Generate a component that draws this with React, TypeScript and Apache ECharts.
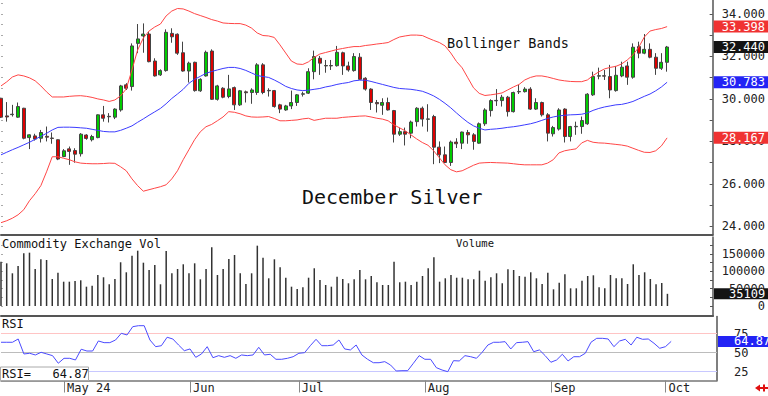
import React, { useEffect, useRef } from "react";
import * as echarts from "echarts";

const FONT = '"DejaVu Sans Mono", "Liberation Mono", monospace';

// Trading days (2024), by month; the label marks the month start on the axis
const tradingMonths = [
  { ym: "2024-04", label: "", days: [16, 17, 18, 19, 22, 23, 24, 25, 26, 29, 30] },
  { ym: "2024-05", label: "May 24", days: [1, 2, 3, 6, 7, 8, 9, 10, 13, 14, 15, 16, 17, 20, 21, 22, 23, 24, 28, 29, 30, 31] },
  { ym: "2024-06", label: "Jun", days: [3, 4, 5, 6, 7, 10, 11, 12, 13, 14, 17, 18, 20, 21, 24, 25, 26, 27, 28] },
  { ym: "2024-07", label: "Jul", days: [1, 2, 3, 5, 8, 9, 10, 11, 12, 15, 16, 17, 18, 19, 22, 23, 24, 25, 26, 29, 30, 31] },
  { ym: "2024-08", label: "Aug", days: [1, 2, 5, 6, 7, 8, 9, 12, 13, 14, 15, 16, 19, 20, 21, 22, 23, 26, 27, 28, 29, 30] },
  { ym: "2024-09", label: "Sep", days: [3, 4, 5, 6, 9, 10, 11, 12, 13, 16, 17, 18, 19, 20, 23, 24, 25, 26, 27, 30] },
  { ym: "2024-10", label: "Oct", days: [1, 2, 3, 4, 7, 8, 9, 10, 11, 14] },
];

// [open, high, low, close]
const ohlc: number[][] = [
  [30.03, 30.05, 29.10, 29.14], [29.20, 29.85, 28.93, 29.15], [29.26, 29.72, 29.17, 29.28], [29.14, 29.83, 29.11, 29.64], [29.56, 29.58, 28.10, 28.15],
  [28.18, 28.33, 27.64, 28.31], [28.26, 28.36, 28.04, 28.11], [28.15, 28.54, 27.95, 28.42], [28.24, 28.70, 28.00, 28.20], [28.16, 28.42, 27.89, 28.14],
  [28.08, 28.10, 27.12, 27.17], [27.29, 27.64, 27.26, 27.56], [27.65, 27.76, 26.90, 27.53], [27.57, 27.68, 27.00, 27.40], [27.42, 28.39, 27.29, 28.34],
  [28.30, 28.34, 28.08, 28.14], [28.08, 28.31, 28.00, 28.23], [28.18, 29.27, 28.15, 29.25], [29.25, 29.67, 28.93, 29.09], [29.18, 29.33, 28.89, 29.16],
  [29.14, 29.56, 29.05, 29.52], [29.48, 30.66, 29.40, 30.61], [30.66, 30.74, 30.42, 30.50], [30.58, 32.61, 30.39, 32.49], [32.61, 33.52, 32.15, 32.82],
  [32.96, 33.55, 32.17, 33.05], [33.05, 33.16, 31.72, 31.75], [31.78, 31.91, 31.05, 31.08], [31.13, 31.39, 31.08, 31.33], [31.33, 33.27, 31.28, 33.13],
  [33.08, 33.32, 32.64, 32.92], [33.04, 33.08, 32.07, 32.15], [32.17, 32.69, 31.28, 31.31], [31.31, 31.75, 30.77, 31.68], [31.72, 31.75, 30.34, 30.39],
  [30.38, 30.97, 30.33, 30.92], [31.08, 32.27, 31.05, 32.19], [32.25, 32.33, 29.95, 29.98], [29.98, 30.66, 29.92, 30.61], [30.50, 30.55, 30.03, 30.08],
  [30.11, 31.13, 30.03, 30.47], [30.53, 30.58, 29.48, 29.72], [29.72, 30.42, 29.67, 30.38], [30.33, 30.39, 29.83, 30.29], [30.30, 30.50, 29.77, 30.42],
  [30.30, 31.68, 30.19, 31.60], [31.60, 31.68, 30.22, 30.30], [30.40, 30.50, 30.11, 30.38], [30.39, 30.42, 29.59, 29.64], [29.72, 29.77, 29.33, 29.52],
  [29.48, 29.72, 29.44, 29.67], [29.67, 30.39, 29.52, 29.83], [29.83, 30.23, 29.67, 30.19], [30.22, 30.34, 30.11, 30.24], [30.27, 31.44, 30.23, 31.28],
  [31.28, 32.27, 30.92, 31.99], [31.91, 32.02, 31.13, 31.68], [31.55, 31.83, 31.23, 31.57], [31.57, 31.83, 31.36, 31.55], [31.56, 32.49, 31.52, 32.19],
  [32.17, 32.22, 31.13, 31.55], [31.55, 31.75, 31.28, 31.36], [31.33, 32.15, 31.28, 31.99], [31.96, 32.15, 30.89, 30.92], [30.97, 31.02, 30.39, 30.46],
  [30.46, 30.50, 29.48, 29.83], [29.83, 29.95, 29.36, 29.77], [29.70, 30.03, 29.25, 29.83], [29.83, 30.06, 29.45, 29.48], [29.45, 29.48, 27.95, 28.34],
  [28.34, 28.65, 28.26, 28.46], [28.46, 28.65, 27.81, 28.34], [28.39, 28.98, 28.15, 28.91], [28.93, 29.61, 28.70, 29.56], [29.56, 29.64, 28.70, 29.05],
  [29.04, 29.75, 28.46, 29.06], [29.17, 29.25, 26.93, 27.73], [27.73, 28.00, 26.98, 27.37], [27.37, 27.76, 26.98, 27.01], [27.01, 28.04, 26.85, 27.97],
  [27.97, 28.15, 27.69, 27.89], [27.92, 28.46, 27.64, 28.44], [28.42, 28.54, 27.89, 28.31], [28.31, 28.39, 27.61, 28.00], [27.92, 28.89, 27.89, 28.83],
  [28.83, 29.56, 28.73, 29.48], [29.45, 29.98, 29.17, 29.92], [29.93, 30.46, 29.67, 29.91], [29.92, 30.19, 29.64, 30.08], [30.08, 30.14, 29.17, 29.40],
  [29.40, 30.34, 29.36, 30.30], [30.33, 30.66, 30.23, 30.35], [30.34, 30.55, 30.30, 30.46], [30.46, 30.55, 29.48, 29.52], [29.52, 30.03, 29.48, 29.83],
  [29.83, 29.87, 29.17, 29.25], [29.25, 29.33, 28.00, 28.39], [28.36, 28.73, 28.23, 28.65], [28.58, 29.56, 28.51, 29.48], [29.52, 29.56, 27.95, 28.23],
  [28.23, 28.73, 28.00, 28.70], [28.69, 28.93, 28.31, 28.71], [28.70, 29.17, 28.36, 28.98], [28.83, 30.27, 28.78, 30.22], [30.19, 31.28, 30.14, 31.05],
  [31.07, 31.47, 30.92, 31.09], [31.09, 31.36, 30.89, 31.07], [31.05, 31.60, 30.03, 30.42], [30.39, 31.55, 30.34, 31.11], [31.08, 31.75, 31.02, 31.49],
  [31.55, 31.75, 30.66, 31.02], [31.02, 32.61, 30.95, 32.43], [32.46, 32.69, 31.91, 32.15], [32.15, 33.05, 32.10, 32.33], [32.33, 32.61, 31.91, 31.96],
  [31.96, 32.15, 31.13, 31.44], [31.44, 32.15, 31.36, 31.72], [31.72, 32.49, 31.28, 32.44],
];

const upperBand = [
  30.61, 30.80, 31.03, 31.13, 31.08, 30.99, 30.85, 30.61, 30.33, 30.09,
  30.09, 30.09, 30.12, 30.14, 30.15, 30.12, 30.07, 30.00, 29.95, 29.88,
  29.95, 30.14, 30.47, 31.36, 32.30, 32.86, 33.19, 33.38, 33.52, 33.90,
  34.13, 34.25, 34.23, 34.13, 34.01, 33.92, 33.83, 33.73, 33.66, 33.57,
  33.55, 33.54, 33.54, 33.47, 33.33, 33.10, 32.98, 32.96, 32.89, 32.54,
  32.16, 31.78, 31.64, 31.62, 31.74, 31.95, 32.11, 32.18, 32.25, 32.32,
  32.37, 32.42, 32.46, 32.46, 32.51, 32.54, 32.58, 32.61, 32.65, 32.79,
  32.91, 32.96, 33.00, 33.00, 32.98, 32.86, 32.75, 32.65, 32.49, 32.16,
  31.76, 31.46, 30.99, 30.52, 30.26, 30.16, 30.19, 30.23, 30.28, 30.42,
  30.56, 30.68, 30.89, 31.01, 31.08, 31.08, 31.03, 30.96, 30.89, 30.85,
  30.82, 30.81, 30.81, 30.89, 31.10, 31.27, 31.41, 31.48, 31.53, 31.64,
  31.83, 32.07, 32.42, 32.91, 33.19, 33.26, 33.31, 33.398,
];

const middleBand = [
  27.37, 27.49, 27.61, 27.72, 27.84, 27.96, 28.10, 28.24, 28.38, 28.54,
  28.66, 28.67, 28.67, 28.66, 28.64, 28.62, 28.57, 28.52, 28.47, 28.45,
  28.45, 28.52, 28.62, 28.73, 28.90, 29.06, 29.23, 29.39, 29.55, 29.77,
  30.02, 30.23, 30.45, 30.73, 30.92, 31.06, 31.20, 31.29, 31.36, 31.43,
  31.48, 31.48, 31.43, 31.34, 31.22, 31.10, 31.05, 31.01, 30.89, 30.75,
  30.59, 30.49, 30.42, 30.39, 30.41, 30.45, 30.49, 30.56, 30.61, 30.68,
  30.73, 30.77, 30.85, 30.88, 30.88, 30.82, 30.75, 30.68, 30.61, 30.54,
  30.49, 30.47, 30.45, 30.41, 30.36, 30.26, 30.14, 29.98, 29.79, 29.58,
  29.34, 29.11, 28.90, 28.73, 28.62, 28.54, 28.57, 28.59, 28.62, 28.66,
  28.69, 28.73, 28.78, 28.83, 28.90, 28.99, 29.08, 29.15, 29.20, 29.23,
  29.25, 29.26, 29.28, 29.34, 29.46, 29.55, 29.62, 29.67, 29.72, 29.74,
  29.80, 29.88, 30.00, 30.12, 30.23, 30.38, 30.56, 30.783,
];

const lowerBand = [
  24.18, 24.27, 24.39, 24.55, 24.79, 25.21, 25.54, 25.92, 26.57, 27.28,
  27.28, 27.21, 27.14, 27.04, 26.98, 26.96, 26.95, 26.95, 26.96, 26.98,
  26.97, 26.81, 26.62, 26.24, 25.92, 25.66, 25.73, 25.80, 25.87, 25.96,
  26.24, 26.62, 27.14, 27.61, 28.08, 28.45, 28.69, 28.80, 28.97, 29.15,
  29.40, 29.37, 29.30, 29.20, 29.15, 29.14, 29.15, 29.17, 29.08, 28.97,
  28.97, 28.99, 29.01, 29.06, 29.09, 28.99, 29.04, 29.09, 29.09, 29.09,
  29.13, 29.15, 29.17, 29.19, 29.20, 29.15, 29.09, 29.05, 28.97, 28.78,
  28.64, 28.50, 28.31, 28.12, 27.95, 27.82, 27.56, 27.23, 26.90, 26.67,
  26.57, 26.62, 26.75, 26.88, 26.98, 27.00, 27.01, 27.00, 26.99, 26.98,
  26.95, 26.92, 26.90, 26.90, 26.90, 26.90, 26.98, 27.14, 27.46, 27.56,
  27.61, 27.65, 27.93, 28.05, 27.96, 27.93, 27.92, 27.89, 27.86, 27.83,
  27.78, 27.68, 27.58, 27.49, 27.48, 27.56, 27.79, 28.167,
];

const volume = [
  127800, 123100, 94300, 115400, 152000, 153800, 106700, 134700, 132700, 77900,
  96100, 70100, 70100, 72100, 74100, 55700, 58600, 89400, 82800, 62600,
  77900, 126100, 97200, 145100, 159500, 124900, 103900, 118300, 62600, 158700,
  94300, 106700, 120300, 94300, 123100, 77000, 106700, 169300, 89400, 106700,
  135600, 147100, 94300, 63500, 94300, 174000, 139400, 79900, 134700, 111600,
  81600, 55700, 49000, 53900, 81600, 108800, 75000, 60600, 55700, 84500,
  77900, 65500, 77000, 103900, 77000, 86600, 68400, 60600, 60600, 127800,
  68400, 70100, 60600, 70100, 86600, 108800, 140500, 70100, 79900, 89400,
  81600, 81600, 77000, 77000, 101800, 73000, 82800, 94300, 65500, 105900,
  103900, 86600, 84500, 97200, 79900, 63500, 96100, 48100, 67300, 91500,
  51000, 51000, 73000, 86600, 88500, 53900, 51000, 89400, 79900, 79900,
  63500, 120300, 89400, 97200, 77900, 62600, 66400, 35109,
];

const rsi = [
  63.7, 63.7, 63.7, 68.0, 48.3, 49.2, 47.0, 50.5, 48.3, 46.1,
  36.1, 42.6, 42.6, 40.4, 54.5, 52.2, 52.2, 65.4, 63.2, 63.2,
  66.7, 75.5, 73.3, 84.2, 85.5, 85.5, 66.7, 57.9, 59.2, 70.3,
  68.0, 60.1, 52.6, 54.9, 43.9, 48.3, 57.9, 43.4, 46.1, 43.9,
  46.1, 42.6, 47.0, 46.1, 47.0, 57.1, 47.0, 47.9, 41.3, 41.3,
  42.6, 44.7, 49.2, 50.0, 59.2, 67.6, 59.2, 59.2, 60.1, 66.7,
  54.9, 53.6, 60.1, 47.0, 41.3, 36.8, 36.8, 38.2, 33.8, 25.9,
  26.3, 26.3, 36.1, 46.1, 41.3, 41.3, 30.3, 27.2, 25.0, 39.5,
  39.1, 46.1, 44.7, 42.6, 50.5, 60.1, 63.7, 63.7, 64.5, 54.9,
  63.2, 63.7, 64.5, 51.3, 53.6, 46.1, 37.4, 40.4, 47.9, 39.1,
  44.7, 44.7, 49.2, 63.7, 68.9, 68.9, 68.0, 57.9, 65.4, 67.6,
  60.1, 70.3, 67.6, 68.0, 62.4, 55.8, 57.9, 64.87,
];

const priceLabels = [24, 26, 28, 30, 32, 34];
const priceTicks = [24, 25, 26, 27, 28, 29, 30, 31, 32, 33, 34];
const priceMinorTicks = [24, 24.5, 25, 25.5, 26, 26.5, 27, 27.5, 28, 28.5, 29, 29.5, 30, 30.5, 31, 31.5, 32, 32.5, 33, 33.5, 34, 34.5];
const volumeLabels = [0, 50000, 100000, 150000];
const volumeTicks = [0, 25000, 50000, 75000, 100000, 125000, 150000, 175000];
const rsiLabels = [25, 50, 75];

const categories: string[] = [];
const monthStartLabel: Record<number, string> = {};
tradingMonths.forEach((m) => {
  m.days.forEach((d, k) => {
    if (k === 0 && m.label) monthStartLabel[categories.length] = m.label;
    categories.push(`${m.ym}-${String(d).padStart(2, "0")}`);
  });
});

export default function App() {
  const ref = useRef<HTMLDivElement>(null);
  useEffect(() => {
    const chart = echarts.init(ref.current!, null, { renderer: "svg" });
    const last = ohlc.length - 1;
    const lbl = { fontFamily: FONT, fontSize: 12, color: "#222" };
    const isMonthStart = (i: number) => monthStartLabel[i] !== undefined;
    const grids = [
      { left: 1, right: 51, top: 0, height: 235 },
      { left: 1, right: 51, top: 237, height: 79 },
      { left: 1, right: 51, top: 316.5, height: 64 },
    ];
    const xAxes = grids.map((_, g) => ({
      type: "category",
      gridIndex: g,
      data: categories,
      boundaryGap: false,
      axisLine: { show: true, onZero: false, lineStyle: { color: g === 2 ? "#777" : "#555", width: g === 2 ? 1.5 : 2 } },
      axisTick: { show: g === 2, interval: (i: number) => isMonthStart(i), length: 12, lineStyle: { color: "#888" } },
      axisLabel: {
        show: g === 2,
        interval: (i: number) => isMonthStart(i),
        formatter: (_v: string, i: number) => monthStartLabel[i] ?? "",
        align: "left",
        margin: 1,
        padding: [0, 0, 0, 3],
        ...lbl,
      },
      splitLine: { show: false },
    }));
    const priceRange = { min: 23.6, max: 34.65 };
    const volRange = { min: -28850, max: 199000 };
    const rsiRange = { min: 13.4, max: 97.6 };
    const yAxes = [
      {
        type: "value", gridIndex: 0, position: "right", ...priceRange,
        axisLine: { show: true, lineStyle: { color: "#555", width: 1.5 } },
        axisTick: { show: true, inside: true, length: 3, lineStyle: { color: "#555" }, customValues: priceTicks },
        axisLabel: { ...lbl, customValues: priceLabels, formatter: (v: number) => v.toFixed(3), margin: 9, align: "left" },
        splitLine: { show: false },
      },
      {
        type: "value", gridIndex: 0, position: "left", ...priceRange,
        axisLine: { show: false },
        axisTick: { show: true, inside: true, length: 2, lineStyle: { color: "#aaa" }, customValues: priceMinorTicks },
        axisLabel: { show: false },
        splitLine: { show: false },
      },
      {
        type: "value", gridIndex: 1, position: "right", ...volRange,
        axisLine: { show: true, lineStyle: { color: "#555", width: 1.5 } },
        axisTick: { show: true, inside: true, length: 3, lineStyle: { color: "#555" }, customValues: volumeTicks },
        axisLabel: { ...lbl, customValues: volumeLabels, formatter: (v: number) => String(v), margin: 52, align: "right" },
        splitLine: { show: false },
      },
      {
        type: "value", gridIndex: 1, position: "left", ...volRange,
        axisLine: { show: false },
        axisTick: { show: true, inside: true, length: 2, lineStyle: { color: "#aaa" }, customValues: volumeTicks },
        axisLabel: { show: false },
        splitLine: { show: false },
      },
      {
        type: "value", gridIndex: 2, position: "right", ...rsiRange,
        axisLine: { show: true, lineStyle: { color: "#555", width: 1.5 } },
        axisTick: { show: true, inside: true, length: 3, lineStyle: { color: "#555" }, customValues: rsiLabels },
        axisLabel: { ...lbl, customValues: rsiLabels, formatter: (v: number) => String(v), margin: 17, align: "left" },
        splitLine: { show: false },
      },
    ];
    const hiddenLine = { type: "solid", width: 1, color: "rgba(255,255,255,0)", opacity: 1 };
    const boxLabel = {
      show: true, position: "end", distance: 1, formatter: "{b}", color: "#fff", opacity: 1,
      fontFamily: FONT, fontSize: 12, lineHeight: 12, padding: [0, 14, 0, 8],
    };
    const option = {
      animation: false,
      backgroundColor: "#ffffff",
      textStyle: { fontFamily: FONT },
      grid: grids,
      xAxis: xAxes,
      yAxis: yAxes,
      series: [
        {
          type: "candlestick", name: "December Silver", xAxisIndex: 0, yAxisIndex: 0,
          data: ohlc.map(([o, h, l, c]) => [o, c, l, h]),
          barWidth: 3.5,
          itemStyle: { color: "#00cc00", color0: "#dd0000", borderColor: "#444", borderColor0: "#444", borderWidth: 1 },
        },
        {
          type: "line", name: "Upper", xAxisIndex: 0, yAxisIndex: 0, data: upperBand,
          symbol: "none", clip: false, lineStyle: { color: "#ff4646", width: 1 },
        },
        {
          type: "line", name: "Lower", xAxisIndex: 0, yAxisIndex: 0, data: lowerBand,
          symbol: "none", clip: false, lineStyle: { color: "#ff4646", width: 1 },
        },
        {
          type: "line", name: "Middle", xAxisIndex: 0, yAxisIndex: 0, data: middleBand,
          symbol: "none", clip: false, lineStyle: { color: "#3c3cff", width: 1 }, z: 3,
          markLine: {
            silent: true, symbol: "none", animation: false, z: 20,
            lineStyle: hiddenLine,
            label: boxLabel,
            data: [
              { name: upperBand[last].toFixed(3), yAxis: upperBand[last], label: { backgroundColor: "#f03232" } },
              { name: ohlc[last][3].toFixed(3), yAxis: ohlc[last][3], label: { backgroundColor: "#141414" } },
              { name: middleBand[last].toFixed(3), yAxis: middleBand[last], label: { backgroundColor: "#2323f5" } },
              { name: lowerBand[last].toFixed(3), yAxis: lowerBand[last], label: { backgroundColor: "#f03232" } },
            ],
          },
        },
        {
          type: "bar", name: "Volume", xAxisIndex: 1, yAxisIndex: 2, data: volume,
          barWidth: 1.5, clip: false, itemStyle: { color: "#333" },
          markLine: {
            silent: true, symbol: "none", animation: false, z: 20,
            lineStyle: hiddenLine,
            label: { ...boxLabel, lineHeight: 11, padding: [0, 4, 0, 15], backgroundColor: "#141414" },
            data: [{ name: String(volume[last]), yAxis: volume[last] }],
          },
        },
        {
          type: "line", name: "RSI", xAxisIndex: 2, yAxisIndex: 4, data: rsi,
          symbol: "none", clip: false, lineStyle: { color: "#4b4bff", width: 1 }, z: 3,
          markLine: {
            silent: true, symbol: "none", animation: false, z: 2,
            lineStyle: { type: "solid", width: 1, opacity: 1 },
            label: { ...boxLabel, lineHeight: 11, padding: [0, 4, 0, 16], backgroundColor: "#2323f5" },
            data: [
              { name: "75", yAxis: 75, lineStyle: { color: "#ffc4c4" }, label: { show: false } },
              { name: "50", yAxis: 50, lineStyle: { color: "#bcbcbc" }, label: { show: false } },
              { name: "25", yAxis: 25, lineStyle: { color: "#c8c8ff" }, label: { show: false } },
              { name: rsi[last].toFixed(2), yAxis: rsi[last], lineStyle: { color: "rgba(255,255,255,0)" } },
            ],
          },
        },
      ],
      graphic: [
        { type: "text", x: 447, y: 43, style: { text: "Bollinger Bands", fontFamily: FONT, fontSize: 13.5, fill: "#111", verticalAlign: "middle" } },
        { type: "text", x: 302, y: 197, style: { text: "December Silver", fontFamily: FONT, fontSize: 20, fill: "#111", verticalAlign: "middle" } },
        { type: "text", x: 2, y: 244, style: { text: "Commodity Exchange Vol", fontFamily: FONT, fontSize: 12, fill: "#111", verticalAlign: "middle" } },
        { type: "text", x: 475, y: 243, style: { text: "Volume", fontFamily: FONT, fontSize: 10.5, fill: "#111", align: "center", verticalAlign: "middle" } },
        { type: "text", x: 2, y: 324, style: { text: "RSI", fontFamily: FONT, fontSize: 12, fill: "#111", verticalAlign: "middle" } },
        { type: "rect", shape: { x: 0.5, y: 367, width: 88, height: 13.5 }, style: { fill: "#fff", stroke: "#aaa", lineWidth: 1 }, z: 10 },
        { type: "text", x: 2, y: 374, z: 11, style: { text: `RSI=   ${rsi[last].toFixed(2)}`, fontFamily: FONT, fontSize: 12, fill: "#111", verticalAlign: "middle" } },
        { type: "polygon", shape: { points: [[755, 388], [760, 384.5], [760, 391.5]] }, style: { fill: "#e01010" } },
        { type: "rect", shape: { x: 759, y: 387, width: 9, height: 2 }, style: { fill: "#e01010" } },
        { type: "rect", shape: { x: 763, y: 384.5, width: 2, height: 7 }, style: { fill: "#e01010" } },
      ],
    };
    chart.setOption(option as any);
    return () => chart.dispose();
  }, []);
  return <div ref={ref} style={{ position: "absolute", left: 0, top: 0, width: 768, height: 396 }} />;
}
